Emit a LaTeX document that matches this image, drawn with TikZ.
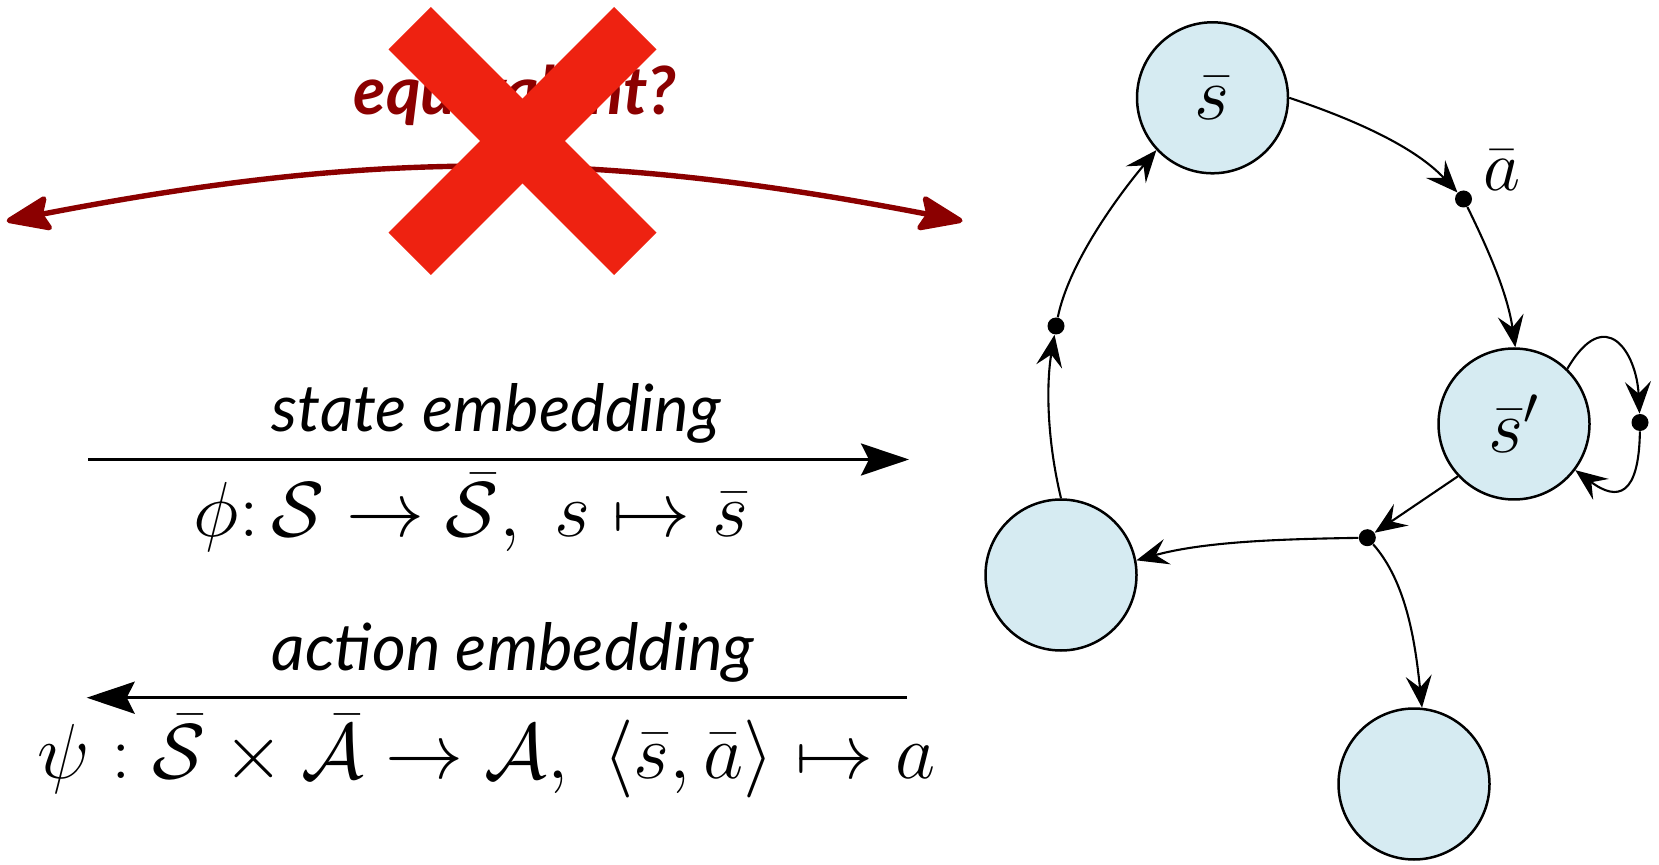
\RequirePackage{fix-cm}
\documentclass[tikz,border=0pt]{standalone}
\usepackage{fontspec}
\newfontfamily\lato{Lato}
\usetikzlibrary{arrows.meta}
\definecolor{eqred}{RGB}{139,0,0}
\definecolor{xred}{RGB}{238,34,17}
\definecolor{statefill}{RGB}{214,235,242}
\begin{document}
\begin{tikzpicture}[x=0.5pt,y=-0.5pt,
  state/.style={circle, draw=black, line width=1.25pt, fill=statefill, minimum size=75.5pt, inner sep=0pt, font=\fontsize{38}{44}\selectfont},
  act/.style={circle, fill=black, minimum size=8.5pt, inner sep=0pt},
  edge/.style={line width=1.05pt, -{Stealth[length=16pt,width=13pt,inset=6pt]}},
  bigarrow/.style={line width=1.5pt, -{Stealth[length=24pt,width=16pt,inset=4pt]}},
  redarrow/.style={line width=2.7pt, draw=eqred, {Stealth[length=25pt,width=19pt,inset=4pt,round]}-{Stealth[length=25pt,width=19pt,inset=4pt,round]}},
  lbl/.style={anchor=base, inner sep=0pt, font=\lato\itshape\fontsize{32.6}{38}\selectfont},
  formula/.style={anchor=base, inner sep=0pt, font=\fontsize{39}{47}\selectfont},
]
\useasboundingbox (0,0) rectangle (1659,865);

% ---- left part: equivalence question ----
\coordinate (eqL) at (6.7,221);
\coordinate (eqR) at (962.5,221);
\draw[redarrow] (eqL) .. controls (373.7,150) and (595.5,150) .. (eqR);
\node[anchor=base, inner sep=0pt, text=eqred, font=\lato\bfseries\itshape\fontsize{33.3}{38}\selectfont] (eq) at (515,115) {equivalent?};
\fill[xred, rotate around={45:(522.5,141)}] (363,111) rectangle (682,171);
\fill[xred, rotate around={-45:(522.5,141)}] (363,111) rectangle (682,171);

% ---- embeddings ----
\node[lbl] (stl) at (496,432) {state embedding};
\coordinate (st1) at (88,459.5);
\coordinate (st2) at (909,459.5);
\draw[bigarrow] (st1) -- (st2);
\node[formula] (phi) at (471,537) {$\phi\colon \mathcal{S} \rightarrow \bar{\mathcal{S}},\; s \mapsto \bar{s}$};

\node[lbl] (acl) at (513,670) {action embedding};
\coordinate (ac1) at (907,697.7);
\coordinate (ac2) at (86.7,697.7);
\draw[bigarrow] (ac1) -- (ac2);
\node[formula] (psi) at (486.5,778) {$\psi : \bar{\mathcal{S}} \times \bar{\mathcal{A}} \rightarrow \mathcal{A},\; \langle \bar{s}, \bar{a} \rangle \mapsto a$};

% ---- graph ----
\node[state] (S) at (1212.5,97.8) {$\bar{s}$};
\node[state] (Sp) at (1514,424) {$\bar{s}'$};
\node[state] (L) at (1061,575) {};
\node[state] (B) at (1414,784) {};

\node[act] (a) at (1463.5,199) {};
\node[act] (ld) at (1056,326) {};
\node[act] (lp) at (1640,422.5) {};
\node[act] (br) at (1367.3,537.7) {};

\node[anchor=base, inner sep=0pt, font=\fontsize{36}{42}\selectfont] (alab) at (1502,191) {$\bar{a}$};

\draw[edge] (S.east) .. controls (1355.5,120) and (1415,147) .. (a);
\draw[edge] (a) .. controls (1487.6,248.4) and (1507.3,292.5) .. (Sp.89);
\draw[edge] (Sp.46) .. controls (1605.5,303) and (1636.5,352.5) .. (lp);
\draw[edge] (lp) .. controls (1639,495) and (1618.3,502.4) .. (Sp.-37);
\draw[edge] (Sp.223) -- (br);
\draw[edge] (br) .. controls (1292,539) and (1207.4,540.6) .. (L.11);
\draw[edge] (br) .. controls (1407,582.7) and (1415.4,644.2) .. (B.84);
\draw[edge] (L.90) .. controls (1047,440) and (1046,385) .. (ld);
\draw[edge] (ld) .. controls (1069,262.3) and (1118.6,195.1) .. (S.223);
\end{tikzpicture}
\end{document}
